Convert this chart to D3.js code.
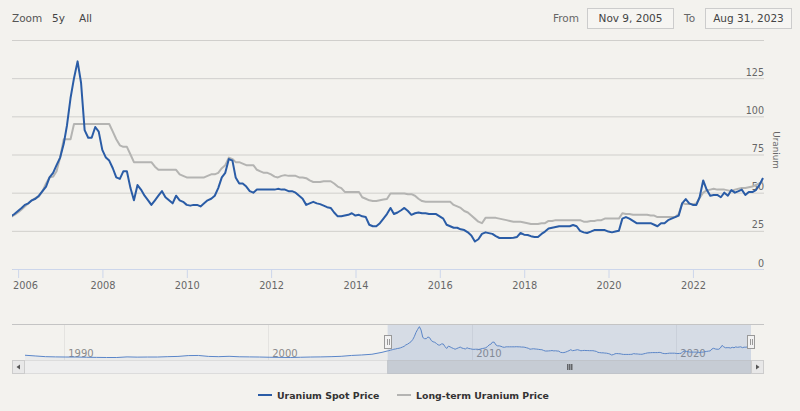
<!DOCTYPE html>
<html>
<head>
<meta charset="utf-8">
<script src="https://cdn.jsdelivr.net/npm/d3@7"></script>
<style>
	body { margin: 0; background: #f3f2ee; }
	svg { display: block; font-family: "DejaVu Sans", sans-serif; }
</style>
</head>
<body>
<svg class="uraniumChart"></svg>
<script>
// monthly values, month-end, from Oct 2005 to Aug 2023 (US$/lb)
const spotPrice = [
	34.5, 36, 38,
	40, 42, 43, 45, 46, 48, 51, 54, 60, 63, 68, 73,
	82, 94, 112, 125, 136, 122, 91, 86, 86, 93, 90, 78,
	73, 71, 66, 60, 59, 64, 64, 53, 45, 55, 52, 48,
	45, 42, 45, 48, 51, 47, 45, 43, 48, 45, 44, 42,
	41.5, 42, 42, 41, 43, 45, 46, 48, 53, 60, 63, 72,
	71, 60, 56, 56, 54, 51, 50, 52, 52, 52, 52, 52,
	52, 52.5, 52, 52, 51, 51, 50, 48, 46, 42, 43, 44,
	43, 42.5, 41.5, 40.5, 40, 37, 34.5, 34.5, 35, 35.5, 36.5, 35,
	35.5, 34.5, 34, 29, 28, 28, 30, 33, 36, 40, 36, 37,
	38.5, 40, 38, 35.5, 36.5, 37, 36.5, 36.5, 36, 36, 36, 34.5,
	33, 29, 28, 27, 27, 26, 25.5, 24, 22, 18, 19.5, 23,
	24, 23.5, 23, 21.5, 20.3, 20.3, 20.3, 20.3, 20.5, 21, 23.6, 22.5,
	22.3, 21.5, 21, 21, 23, 24.5, 26.5, 27, 27.5, 28, 28, 28,
	28, 28.8, 28, 25, 24, 23.6, 24.5, 25.5, 25.5, 25.5, 25.5, 24.5,
	24, 24.5, 25, 33, 34, 33, 31.5, 30, 30, 30, 30, 30,
	29, 28, 30, 30, 32, 33, 34, 35, 43, 45.8, 43, 42,
	42, 47, 58, 52, 48, 48.5, 48.5, 47, 50, 48, 51.7, 50,
	51, 52, 48.5, 50.5, 50.4, 51.7, 55, 59.6
];
const longTermPrice = [
	34, 35.5, 37,
	39, 41, 43, 45, 46.5, 47.5, 51, 56, 60, 60.5, 64, 73,
	85, 85, 85, 95, 95, 95, 95, 95, 95, 95, 95, 95,
	95, 95, 90, 85, 81, 80, 80, 75, 70, 70, 70, 70,
	70, 70, 67, 65, 65, 65, 65, 65, 65, 62, 61, 60,
	60, 60, 60, 60, 60, 61, 62, 62, 63, 66, 68, 73,
	72, 70, 70, 69, 68, 68, 68, 65, 64, 63, 63, 62,
	60.5, 60, 61, 61.5, 61, 61, 61, 60, 60, 59.5, 58, 57,
	57, 57, 57.5, 57.5, 57.5, 56, 54, 53, 50.5, 50.5, 50.5, 50.5,
	50.5, 47, 46, 45, 44.5, 44.5, 45, 45.5, 45.8, 49.5, 49.5, 49.5,
	49.5, 49.5, 49, 49, 48, 46, 44.5, 44, 44, 44, 44, 44,
	44, 44, 44, 42, 41, 40, 38, 37, 35, 33, 31, 30,
	33.5, 33.5, 33.5, 33.5, 33, 32.5, 32, 31.5, 31, 31, 31, 30.5,
	30, 29.5, 29.5, 29.5, 30, 30, 31.5, 31.5, 32, 32, 32, 32,
	32, 32, 32, 32, 31, 31, 31.5, 31.5, 32, 32, 33, 33,
	33, 33, 33, 36.5, 36, 36, 35.5, 35.5, 35.5, 35.5, 35.5, 35,
	35, 34, 34, 34, 34, 34, 34, 36, 43, 42.5, 42.5, 42.5,
	43, 46.5, 50, 51.5, 52, 52.5, 52, 52, 52, 51.5, 51, 52,
	52.5, 53, 53, 53.5, 54, 55, 56, 57
];
// older spot prices, only shown in the navigator
const historyDates = ['1988-01-31', '1988-07-31', '1989-01-31', '1989-07-31', '1990-01-31', '1990-07-31',
	'1991-01-31', '1991-07-31', '1992-01-31', '1992-07-31', '1993-01-31', '1993-07-31', '1994-01-31',
	'1994-07-31', '1995-01-31', '1995-07-31', '1996-01-31', '1996-07-31', '1997-01-31', '1997-07-31',
	'1998-01-31', '1998-07-31', '1999-01-31', '1999-07-31', '2000-01-31', '2000-07-31', '2001-01-31',
	'2001-07-31', '2002-01-31', '2002-07-31', '2003-01-31', '2003-07-31', '2004-01-31', '2004-07-31',
	'2005-01-31', '2005-07-31'];
const historySpot = [17, 14, 11, 10, 9.5, 9.5, 8.5, 8, 7.5, 7.5, 10, 9, 9.5, 9.5, 11, 12,
	15.5, 16, 12, 11, 12.5, 10.5, 10, 9.5, 8.5, 8, 7.5, 8.5, 9.5, 10, 11, 12.5, 16, 18, 21, 29];

const seriesNames = ['Uranium Spot Price', 'Long-term Uranium Price'];
const seriesColors = ['#2a5ca6', '#b4b4b2'];
const yTicks = [0, 25, 50, 75, 100, 125, 150];
const xTickYears = [2006, 2008, 2010, 2012, 2014, 2016, 2018, 2020, 2022];
const navTickYears = [1990, 2000, 2010, 2020];
const rangeButtons = ['5y', 'All'];
const rangeFrom = new Date(2005, 10, 9);
const rangeTo = new Date(2023, 7, 31);

const svg = d3.select('.uraniumChart')
	.attr('width', 800)
	.attr('height', 411);

let plotLeft = 12,
	plotRight = 763,
	plotTop = 40,
	plotBottom = 269,
	navTop = 324,
	navBottom = 360,
	dateValue = d => d.date,
	priceValue = d => d.value;

const parseDate = d3.timeParse('%Y-%m-%d');
const monthEnds = spotPrice.map((v, i) => d3.timeDay.offset(d3.timeMonth.offset(new Date(2005, 10, 1), i), -1));

const spotData = spotPrice.map((v, i) => ({ date: monthEnds[i], value: v }));
const longTermData = longTermPrice.map((v, i) => ({ date: monthEnds[i], value: v }));

const xScale = d3.scaleTime()
	.domain([rangeFrom, rangeTo])
	.range([plotLeft, plotRight]);

const yScale = d3.scaleLinear()
	.domain([0, 150])
	.range([plotBottom, plotTop]);

// clip
svg.append('defs').append('clipPath')
	.attr('id', 'plotClip')
	.append('rect')
	.attr('x', plotLeft)
	.attr('y', plotTop - 5)
	.attr('width', plotRight - plotLeft + 1)
	.attr('height', plotBottom - plotTop + 10);

// y grid + labels (right side)
const yAxis = d3.axisRight(yScale)
	.tickValues(yTicks)
	.tickSize(plotRight - plotLeft + 1)
	.tickFormat(d => d === 150 ? '' : d);
const yAxisG = svg.append('g')
	.attr('transform', `translate(${plotLeft}, 0)`)
	.call(yAxis)
	.attr('font-family', null)
	.attr('font-size', 9.6);
yAxisG.select('.domain').remove();
yAxisG.selectAll('line').attr('stroke', '#d0cfcc');
yAxisG.selectAll('text')
	.attr('x', plotRight - plotLeft + 1)
	.attr('dy', -3)
	.attr('text-anchor', 'end')
	.attr('fill', '#666');

svg.append('text')
	.attr('transform', `translate(773, 150) rotate(90)`)
	.attr('text-anchor', 'middle')
	.attr('font-size', 8.8)
	.attr('fill', '#666')
	.text('Uranium');

// x axis
const xAxis = d3.axisBottom(xScale)
	.tickValues(xTickYears.map(yr => new Date(yr, 0, 1)))
	.tickFormat(d3.timeFormat('%Y'))
	.tickSize(9)
	.tickSizeOuter(0)
	.tickPadding(4);
const xAxisG = svg.append('g')
	.attr('transform', `translate(0, ${plotBottom})`)
	.call(xAxis)
	.attr('font-family', null)
	.attr('font-size', 9.8);
xAxisG.selectAll('.domain, line').attr('stroke', '#ccd6eb');
xAxisG.selectAll('text').attr('fill', '#666');
xAxisG.selectAll('text')
	.filter(d => d.getFullYear() === xTickYears[0])
	.attr('text-anchor', 'start')
	.attr('x', plotLeft + 0.5 - xScale(new Date(xTickYears[0], 0, 1)));

// series lines
const lineGenerator = d3.line()
	.x(d => xScale(dateValue(d)))
	.y(d => yScale(priceValue(d)));

const seriesG = svg.append('g').attr('clip-path', 'url(#plotClip)');
[longTermData, spotData].forEach((data, i) => {
	seriesG.append('path')
		.attr('class', 'line-path')
		.attr('stroke', seriesColors[1 - i])
		.attr('stroke-width', 2)
		.attr('stroke-linejoin', 'round')
		.attr('fill', 'none')
		.attr('d', lineGenerator(data));
});

// range selector
svg.append('text')
	.attr('x', 12).attr('y', 22)
	.attr('font-size', 10.5)
	.attr('fill', '#555')
	.text('Zoom');
svg.selectAll('.rangeBtn')
	.data(rangeButtons)
	.enter().append('text')
	.attr('class', 'rangeBtn')
	.attr('x', (d, i) => [52, 79][i])
	.attr('y', 22)
	.attr('font-size', 10.5)
	.attr('fill', '#444')
	.text(d => d);

const fmt = d3.timeFormat('%b %-d, %Y');
const inputs = [
	{ label: 'From', lx: 553, bx: 587, bw: 86, value: fmt(rangeFrom) },
	{ label: 'To', lx: 684, bx: 705, bw: 86, value: fmt(rangeTo) }
];
inputs.forEach(inp => {
	svg.append('text')
		.attr('x', inp.lx).attr('y', 22)
		.attr('font-size', 10.5)
		.attr('fill', '#666')
		.text(inp.label);
	svg.append('rect')
		.attr('x', inp.bx + 0.5).attr('y', 8.5)
		.attr('width', inp.bw).attr('height', 20)
		.attr('fill', '#f6f5f2')
		.attr('stroke', '#cccccc');
	svg.append('text')
		.attr('x', inp.bx + inp.bw / 2 + 0.5).attr('y', 22)
		.attr('text-anchor', 'middle')
		.attr('font-size', 10.5)
		.attr('fill', '#444')
		.text(inp.value);
});

// navigator
const navData = historyDates.map((d, i) => ({ date: parseDate(d), value: historySpot[i] })).concat(spotData);

const navX = d3.scaleTime()
	.domain([parseDate(historyDates[0]), rangeTo])
	.range([25, 751]);
const navY = d3.scaleLinear()
	.domain([0, 140])
	.range([359.3, 325.7]);

const navG = svg.append('g');

navG.selectAll('.navGrid')
	.data(navTickYears)
	.enter().append('line')
	.attr('class', 'navGrid')
	.attr('x1', d => Math.round(navX(new Date(d, 0, 1))) + 0.5)
	.attr('x2', d => Math.round(navX(new Date(d, 0, 1))) + 0.5)
	.attr('y1', navTop)
	.attr('y2', navBottom)
	.attr('stroke', '#e4e3e0');

navG.append('path')
	.attr('fill', 'rgba(69, 114, 196, 0.05)')
	.attr('d', d3.area()
		.x(d => navX(dateValue(d)))
		.y0(navBottom)
		.y1(d => navY(priceValue(d)))(navData));

navG.selectAll('.navLabel')
	.data(navTickYears)
	.enter().append('text')
	.attr('class', 'navLabel')
	.attr('x', d => navX(new Date(d, 0, 1)) + 4)
	.attr('y', 357)
	.attr('font-size', 10)
	.attr('fill', '#8a8a8a')
	.text(d => d);

navG.append('path')
	.attr('stroke', '#5a86c9')
	.attr('stroke-width', 1)
	.attr('fill', 'none')
	.attr('d', d3.line()
		.x(d => navX(dateValue(d)))
		.y(d => navY(priceValue(d)))(navData));

let selLeft = navX(rangeFrom),
	selRight = navX(rangeTo);

navG.append('rect')
	.attr('x', selLeft).attr('y', navTop)
	.attr('width', selRight - selLeft).attr('height', navBottom - navTop)
	.attr('fill', 'rgba(102, 133, 194, 0.2)');

navG.append('line')
	.attr('x1', plotLeft).attr('x2', plotRight + 1)
	.attr('y1', navTop + 0.5).attr('y2', navTop + 0.5)
	.attr('stroke', '#c4c4c4');

// scrollbar
navG.append('rect')
	.attr('x', plotLeft + 0.5).attr('y', navBottom + 0.5)
	.attr('width', plotRight - plotLeft).attr('height', 13)
	.attr('fill', '#eeeeee')
	.attr('stroke', '#dcdcdc');
navG.append('rect')
	.attr('x', selLeft).attr('y', navBottom + 0.5)
	.attr('width', selRight - selLeft).attr('height', 13)
	.attr('fill', '#c6ccd4')
	.attr('stroke', '#c0c4ca');
[-2, 0, 2].forEach(dx => {
	navG.append('line')
		.attr('x1', (selLeft + selRight) / 2 + dx + 0.5)
		.attr('x2', (selLeft + selRight) / 2 + dx + 0.5)
		.attr('y1', 364).attr('y2', 370)
		.attr('stroke', '#333');
});
[{ x: plotLeft, dir: -1 }, { x: 751, dir: 1 }].forEach(b => {
	navG.append('rect')
		.attr('x', b.x + 0.5).attr('y', navBottom + 0.5)
		.attr('width', 12).attr('height', 13)
		.attr('fill', '#e8e8e8')
		.attr('stroke', '#cccccc');
	let cx = b.x + 6.5, cy = 367;
	navG.append('path')
		.attr('fill', '#555')
		.attr('d', `M${cx + 2 * b.dir},${cy} L${cx - 1.5 * b.dir},${cy - 2.5} L${cx - 1.5 * b.dir},${cy + 2.5} Z`);
});

// handles
[selLeft, selRight].forEach(hx => {
	navG.append('rect')
		.attr('x', Math.round(hx) - 3.5).attr('y', 335.5)
		.attr('width', 7).attr('height', 13)
		.attr('fill', '#f2f2f2')
		.attr('stroke', '#999');
	[-1, 1].forEach(dx => {
		navG.append('line')
			.attr('x1', Math.round(hx) + dx + 0.5).attr('x2', Math.round(hx) + dx + 0.5)
			.attr('y1', 339).attr('y2', 345)
			.attr('stroke', '#999');
	});
});

// legend
const legend = svg.append('g');
let legendX = [258, 397];
seriesNames.forEach((name, i) => {
	legend.append('line')
		.attr('x1', legendX[i]).attr('x2', legendX[i] + 14)
		.attr('y1', 395).attr('y2', 395)
		.attr('stroke', seriesColors[i])
		.attr('stroke-width', 2);
	legend.append('text')
		.attr('x', legendX[i] + 19)
		.attr('y', 399)
		.attr('font-size', 9.4)
		.attr('font-weight', 'bold')
		.attr('fill', '#333')
		.text(name);
});
</script>
</body>
</html>
